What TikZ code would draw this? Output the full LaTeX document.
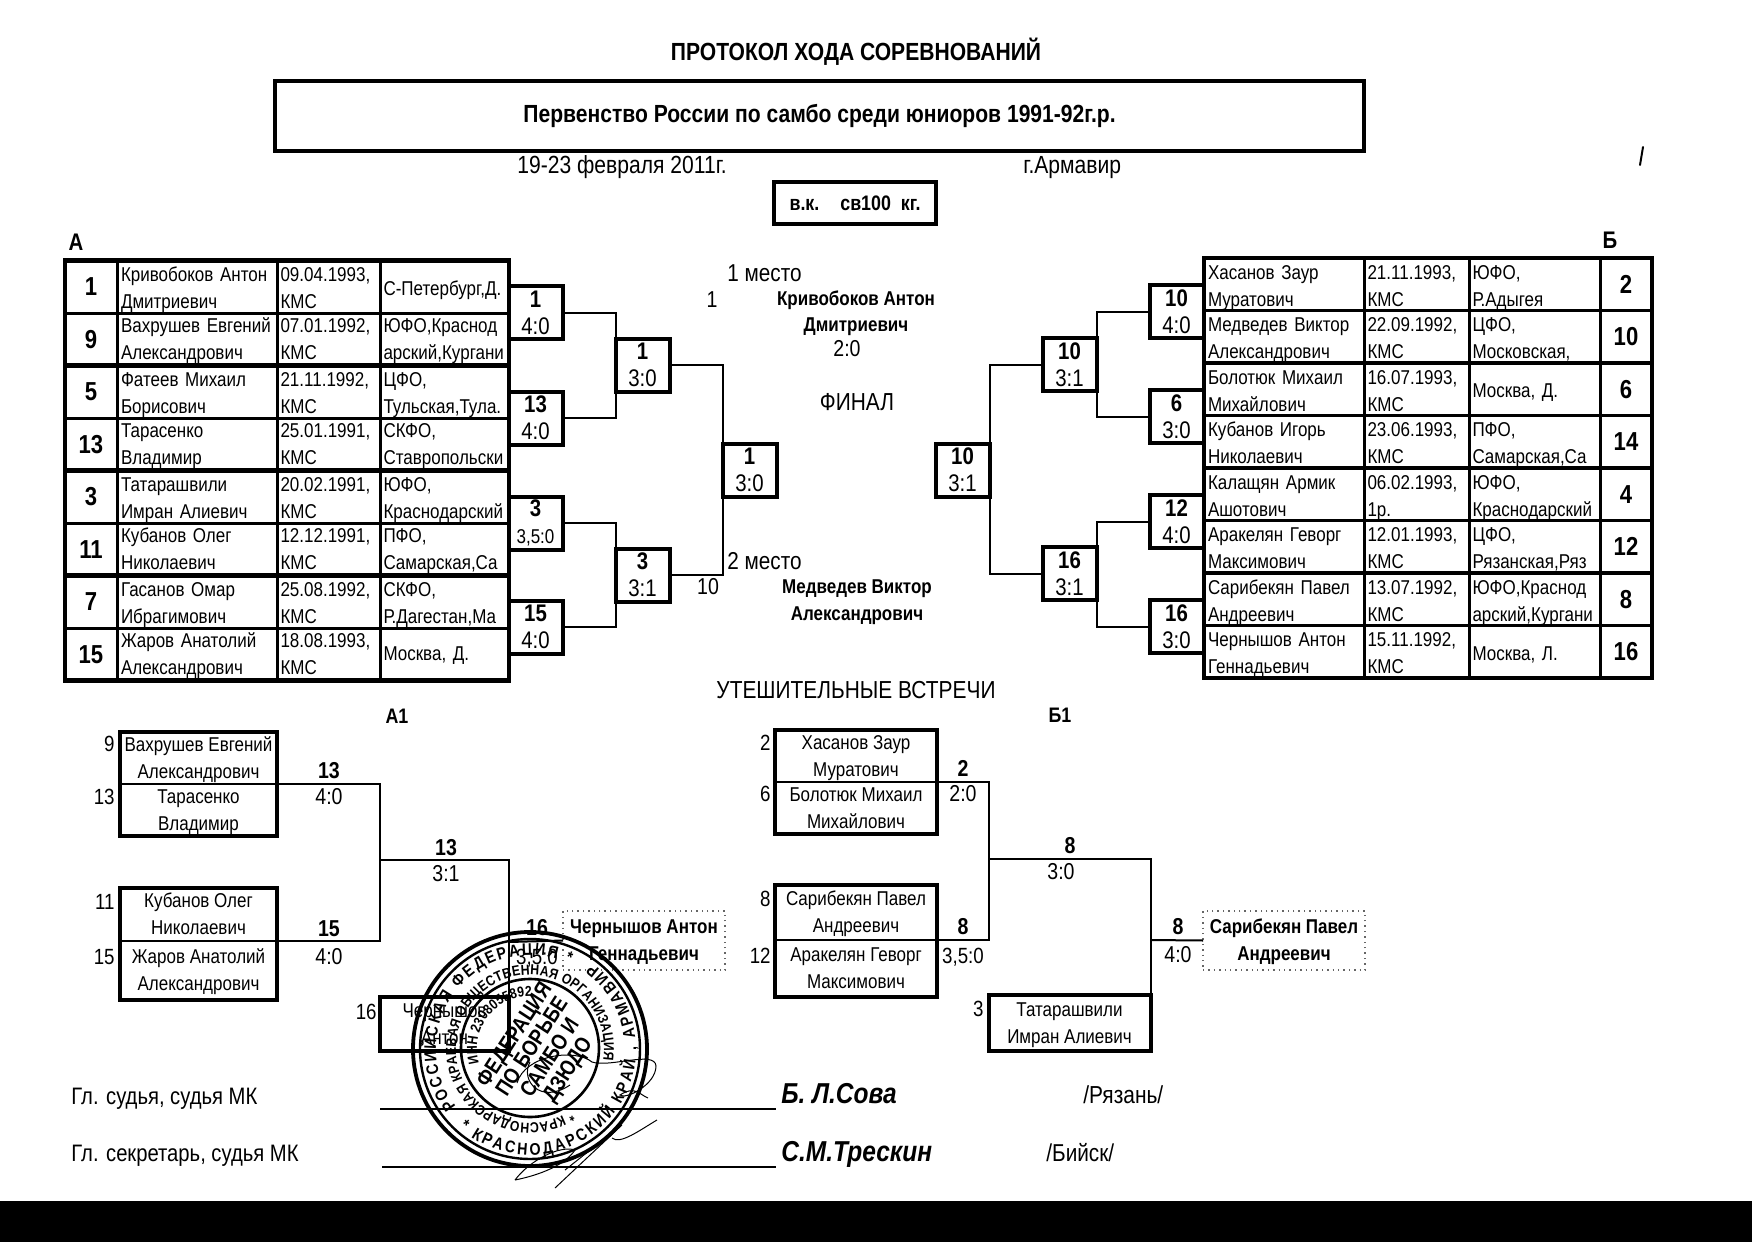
\documentclass[tikz,border=0pt]{standalone}
\usepackage{fontspec}
\setmainfont[FakeStretch=0.85]{Liberation Sans}
\usetikzlibrary{decorations.text}
\newcommand\fz[1]{\fontsize{#1}{13.5}\selectfont}
\newcount\tn
\newcommand\tx[5][mid]{\global\advance\tn by 1 \node[anchor=#1,inner sep=0pt,font=\fz{#4}] (t\the\tn) at ({#2},{#3+4}) {#5};}
\newcommand\stA{\fontsize{8.4}{9}\selectfont\bfseries}
\newcommand\stB{\fontsize{7.2}{8}\selectfont\bfseries}
\def\ctH{10.45pt}
\newcommand\ct[1]{\rule{0pt}{\ctH}#1\rule[-2pt]{0pt}{2pt}}
\newcommand\cb[1]{\rule{0pt}{9.3pt}#1\rule[-2.7pt]{0pt}{2.7pt}}
% rows: prefix, y, seed, name, date, region
\newcommand\lrow[6]{%
 \node[cell,seedf,minimum width=26pt,anchor=north west] (#1s) at (65,#2) {#3};
 \node[cell,txtc,minimum width=80pt,text width=76pt,anchor=north west] (#1n) at (#1s.north east) {\ct{#4}};
 \node[cell,txtc,minimum width=51.5pt,text width=48pt,anchor=north west] (#1d) at (#1n.north east) {\ct{#5}};
 \node[cell,txtc,minimum width=64.5pt,text width=61pt,anchor=north west] (#1r) at (#1d.north east) {\ct{#6}};}
\newcommand\rrow[6]{%
 \node[cell,txtc,minimum width=80pt,text width=76pt,anchor=north west] (#1n) at (1204,#2) {\ct{#4}};
 \node[cell,txtc,minimum width=52.5pt,text width=49pt,anchor=north west] (#1d) at (#1n.north east) {\ct{#5}};
 \node[cell,txtc,minimum width=65.5pt,text width=62pt,anchor=north west] (#1r) at (#1d.north east) {\ct{#6}};
 \node[cell,seedf,minimum width=26pt,anchor=north west] (#1s) at (#1r.north east) {#3};}
\tikzset{
 x=0.5pt,y=-0.5pt,
 cell/.style={draw,line width=1.5pt,outer sep=0pt,inner xsep=1.5pt,inner ysep=0pt,minimum height=26.25pt},
 seedf/.style={font=\fz{13}\bfseries,align=center},
 txtc/.style={font=\fz{10},align=left},
 outl/.style={line width=2.4pt},
 conn/.style={line width=1pt},
 mbox/.style={draw,line width=2pt,outer sep=0pt,inner sep=0pt,minimum width=27pt,minimum height=26.5pt,align=center,font=\fz{12}},
 nbox/.style={draw,line width=1pt,outer sep=0pt,inner sep=0pt,minimum width=78.5pt,minimum height=26pt,align=center,font=\fz{10}},
 dbox/.style={draw=black!60,dotted,line width=0.7pt,outer sep=0pt,inner sep=0pt,minimum width=81pt,minimum height=29.5pt,align=center,font=\fz{10}\bfseries},
 sig/.style={line width=0.5pt},
}
\begin{document}
\begin{tikzpicture}
\useasboundingbox (0,0) rectangle (1752,1242);
\fill[white] (0,0) rectangle (1752,1242);
\fill[black] (0,1201) rectangle (1752,1242);
% header
\tx{856}{51}{12.4}{\bfseries ПРОТОКОЛ ХОДА СОРЕВНОВАНИЙ}
\node[draw,line width=2pt,outer sep=0pt,minimum width=544.5pt,minimum height=35pt,font=\fz{12.4}\bfseries] (ttl) at (819.5,116) {Первенство России по самбо среди юниоров 1991-92г.р.};
\tx[mid west]{517}{164}{12.4}{19-23 февраля 2011г.}
\tx[mid west]{1023}{164}{12.4}{г.Армавир}
\node[draw,line width=2pt,outer sep=0pt,minimum width=81pt,minimum height=21pt,font=\fz{10.5}\bfseries] (cat) at (855,203) {в.к.\quad св100\ \ кг.};
\tx{76}{241}{12}{\bfseries А}
\tx{1610}{239}{12}{\bfseries Б}
% left table
\lrow{la}{260.5}{1}{Кривобоков Антон\\Дмитриевич}{09.04.1993,\\КМС}{С-Петербург,Д.}
\def\ctH{8.45pt}
\lrow{lb}{313}{9}{Вахрушев Евгений\\Александрович}{07.01.1992,\\КМС}{ЮФО,Краснод\\арский,Кургани}
\def\ctH{10.45pt}
\lrow{lc}{365.5}{5}{Фатеев Михаил\\Борисович}{21.11.1992,\\КМС}{ЦФО,\\Тульская,Тула.}
\def\ctH{8.45pt}
\lrow{ld}{418}{13}{Тарасенко\\Владимир}{25.01.1991,\\КМС}{СКФО,\\Ставропольски}
\def\ctH{10.45pt}
\lrow{le}{470.5}{3}{Татарашвили\\Имран Алиевич}{20.02.1991,\\КМС}{ЮФО,\\Краснодарский}
\def\ctH{8.45pt}
\lrow{lf}{523}{11}{Кубанов Олег\\Николаевич}{12.12.1991,\\КМС}{ПФО,\\Самарская,Са}
\def\ctH{10.45pt}
\lrow{lg}{575.5}{7}{Гасанов Омар\\Ибрагимович}{25.08.1992,\\КМС}{СКФО,\\Р.Дагестан,Ма}
\def\ctH{8.45pt}
\lrow{lh}{628}{15}{Жаров Анатолий\\Александрович}{18.08.1993,\\КМС}{Москва, Д.}
\def\ctH{10.45pt}
\draw[outl] (las.north west) rectangle (lhr.south east);
\foreach \r in {lc,le,lg}{\draw[outl] (\r s.north west) -- (\r r.north east);}
% right table
\rrow{ra}{258}{2}{Хасанов Заур\\Муратович}{21.11.1993,\\КМС}{ЮФО,\\Р.Адыгея}
\rrow{rb}{310.5}{10}{Медведев Виктор\\Александрович}{22.09.1992,\\КМС}{ЦФО,\\Московская,}
\rrow{rc}{363}{6}{Болотюк Михаил\\Михайлович}{16.07.1993,\\КМС}{Москва, Д.}
\rrow{rd}{415.5}{14}{Кубанов Игорь\\Николаевич}{23.06.1993,\\КМС}{ПФО,\\Самарская,Са}
\rrow{re}{468}{4}{Калащян Армик\\Ашотович}{06.02.1993,\\1р.}{ЮФО,\\Краснодарский}
\rrow{rf}{520.5}{12}{Аракелян Геворг\\Максимович}{12.01.1993,\\КМС}{ЦФО,\\Рязанская,Ряз}
\rrow{rg}{573}{8}{Сарибекян Павел\\Андреевич}{13.07.1992,\\КМС}{ЮФО,Краснод\\арский,Кургани}
\rrow{rh}{625.5}{16}{Чернышов Антон\\Геннадьевич}{15.11.1992,\\КМС}{Москва, Л.}
\draw[outl] (ran.north west) rectangle (rhs.south east);
\foreach \r in {rc,re,rg}{\draw[outl] (\r n.north west) -- (\r s.north east);}
% left bracket boxes
\node[mbox] (a1) at (535.5,312.5) {\textbf{1}\\4:0};
\node[mbox] (a2) at (535.5,418) {\textbf{13}\\4:0};
\node[mbox] (a3) at (535.5,523) {\textbf{3}\\{\fz{10}3,5:0}};
\node[mbox] (a4) at (535.5,627) {\textbf{15}\\4:0};
\node[mbox] (b1) at (642.5,365) {\textbf{1}\\3:0};
\node[mbox] (b2) at (642.5,575) {\textbf{3}\\3:1};
\node[mbox] (fl) at (749.5,470) {\textbf{1}\\3:0};
\node[mbox] (fr) at (962.5,470) {\textbf{10}\\3:1};
\node[mbox] (c1) at (1069.5,364.5) {\textbf{10}\\3:1};
\node[mbox] (c2) at (1069.5,573.5) {\textbf{16}\\3:1};
\node[mbox] (d1) at (1176.5,311.5) {\textbf{10}\\4:0};
\node[mbox] (d2) at (1176.5,416.5) {\textbf{6}\\3:0};
\node[mbox] (d3) at (1176.5,521.5) {\textbf{12}\\4:0};
\node[mbox] (d4) at (1176.5,626.5) {\textbf{16}\\3:0};
\draw[conn] (a1.east) -| (b1.west);
\draw[conn] (a2.east) -| (b1.west);
\draw[conn] (a3.east) -| (b2.west);
\draw[conn] (a4.east) -| (b2.west);
\draw[conn] (b1.east) -| (fl.west);
\draw[conn] (b2.east) -| (fl.west);
\draw[conn] (d1.west) -| (c1.east);
\draw[conn] (d2.west) -| (c1.east);
\draw[conn] (d3.west) -| (c2.east);
\draw[conn] (d4.west) -| (c2.east);
\draw[conn] (c1.west) -| (fr.east);
\draw[conn] (c2.west) -| (fr.east);
% final texts
\tx[mid west]{727}{272}{12.2}{1 место}
\tx{712}{298}{11.5}{1}
\tx{856}{296}{10}{\bfseries Кривобоков Антон}
\tx{856}{322}{10}{\bfseries Дмитриевич}
\tx{847}{347}{11.5}{2:0}
\tx{857}{401}{12.3}{ФИНАЛ}
\tx[mid west]{727}{560}{12.2}{2 место}
\tx{708}{585}{11.5}{10}
\tx{857}{584}{10}{\bfseries Медведев Виктор}
\tx{857}{611}{10}{\bfseries Александрович}
\tx{856}{689}{12.3}{УТЕШИТЕЛЬНЫЕ ВСТРЕЧИ}
% A1
\tx{397}{714}{10.5}{\bfseries А1}
\node[nbox,anchor=north west] (p1) at (120,732) {\cb{Вахрушев Евгений\\Александрович}};
\node[nbox,anchor=north west] (p2) at (p1.south west) {\cb{Тарасенко\\Владимир}};
\node[nbox,minimum height=26.5pt,anchor=north west] (p3) at (120,888) {\cb{Кубанов Олег\\Николаевич}};
\node[nbox,minimum height=29.5pt,anchor=north west] (p4) at (p3.south west) {\cb{Жаров Анатолий\\Александрович}};
\draw[outl,line width=2pt] (p1.north west) rectangle (p2.south east);
\draw[outl,line width=2pt] (p3.north west) rectangle (p4.south east);
\tx[mid east]{115}{742}{11}{9}
\tx[mid east]{115}{795}{11}{13}
\tx[mid east]{115}{900}{11}{11}
\tx[mid east]{115}{955}{11}{15}
\tx{329}{769}{11.5}{\bfseries 13}
\tx{329}{795}{11.5}{4:0}
\tx{329}{927}{11.5}{\bfseries 15}
\tx{329}{955}{11.5}{4:0}
\tx{446}{846}{11.5}{\bfseries 13}
\tx{446}{872}{11.5}{3:1}
\coordinate (j1) at (380,860);
\coordinate (j2) at (509,942);
\node[mbox,minimum width=64.5pt,minimum height=27pt,font=\fz{10},anchor=north west] (p5) at (380,997) {\cb{Чернышов\\Антон}};
\tx[mid east]{377}{1010}{11}{16}
\node[dbox,anchor=north west] (p6) at (563,911) {\cb{Чернышов Антон\\Геннадьевич}};
\draw[conn] (p1.south east) -| (j1);
\draw[conn] (p3.south east) -| (j1);
\draw[conn] (j1) -| (p5.north east);
\draw[conn] (j2) -- (p6.west);
\tx{537}{926}{11.5}{\bfseries 16}
\tx{537}{955}{11}{3,5:0}
% B1
\tx{1060}{713}{10.5}{\bfseries Б1}
\node[nbox,minimum width=81pt,anchor=north west] (q1) at (775,730) {\cb{Хасанов Заур\\Муратович}};
\node[nbox,minimum width=81pt,anchor=north west] (q2) at (q1.south west) {\cb{Болотюк Михаил\\Михайлович}};
\node[nbox,minimum width=81pt,minimum height=27.5pt,anchor=north west] (q3) at (775,885) {\cb{Сарибекян Павел\\Андреевич}};
\node[nbox,minimum width=81pt,minimum height=28.5pt,anchor=north west] (q4) at (q3.south west) {\cb{Аракелян Геворг\\Максимович}};
\draw[outl,line width=2pt] (q1.north west) rectangle (q2.south east);
\draw[outl,line width=2pt] (q3.north west) rectangle (q4.south east);
\tx[mid east]{771}{741}{11}{2}
\tx[mid east]{771}{792}{11}{6}
\tx[mid east]{771}{897}{11}{8}
\tx[mid east]{771}{954}{11}{12}
\tx{963}{767}{11.5}{\bfseries 2}
\tx{963}{792}{11.5}{2:0}
\tx{963}{925}{11.5}{\bfseries 8}
\tx{963}{954}{11}{3,5:0}
\tx{1070}{844}{11.5}{\bfseries 8}
\tx{1061}{870}{11.5}{3:0}
\tx{1178}{925}{11.5}{\bfseries 8}
\tx{1178}{953}{11.5}{4:0}
\coordinate (k1) at (989,859);
\coordinate (k2) at (1150,940);
\node[mbox,minimum width=81pt,minimum height=28pt,font=\fz{10},anchor=north west] (q5) at (988.5,995) {\cb{Татарашвили\\Имран Алиевич}};
\tx[mid east]{984}{1007}{11}{3}
\node[dbox,anchor=north west] (q6) at (1203,911) {\cb{Сарибекян Павел\\Андреевич}};
\draw[conn] (q1.south east) -| (k1);
\draw[conn] (q3.south east) -| (k1);
\draw[conn] (k1) -| (q5.north east);
\draw[conn] (k2) -- (q6.west);
% signatures
\tx[mid west]{71}{1095}{11.9}{Гл. судья, судья МК}
\tx[mid west]{71}{1152}{11.9}{Гл. секретарь, судья МК}
\coordinate (s1a) at (380,1109); \coordinate (s1b) at (776,1109);
\coordinate (s2a) at (382,1167); \coordinate (s2b) at (776,1167);
\draw[line width=0.9pt] (s1a) -- (s1b);
\draw[line width=0.9pt] (s2a) -- (s2b);
\tx[mid west]{781}{1094}{14.4}{\bfseries\itshape Б. Л.Сова}
\tx[mid west]{781}{1152}{14.4}{\bfseries\itshape С.М.Трескин}
\tx[mid west]{1083}{1094}{12.3}{/Рязань/}
\tx[mid west]{1046}{1152}{12.2}{/Бийск/}
\draw[line width=1pt,line cap=round] (1643,147) -- (1640,165);
% stamp
\begin{scope}[shift={(530,1049)}]
 \draw[line width=1.9pt] (0,0) circle[radius=58.5pt];
 \draw[line width=1.2pt] (0,0) circle[radius=55pt];
 \draw[line width=1.3pt] (0,0.5pt) circle[radius=34.5pt];
 \path[decorate,decoration={text along path,text align={fit to path},text={|\stA|РОССИЙСКАЯ ФЕДЕРАЦИЯ *}}] (218:47pt) arc[start angle=218,end angle=65,radius=47pt];
 \path[decorate,decoration={text along path,text align={fit to path},text={|\stA|* КРАСНОДАРСКИЙ КРАЙ , АРМАВИР}}] (228:53pt) arc[start angle=228,end angle=414,radius=53pt];
 \path[decorate,decoration={text along path,text align={fit to path},text={|\stB|* КРАСНОДАРСКАЯ КРАЕВАЯ ОБЩЕСТВЕННАЯ ОРГАНИЗАЦИЯ}}] (303:37pt) arc[start angle=303,end angle=-9,radius=37pt];
 \path[decorate,decoration={text along path,text align={fit to path},text={|\stB|ИНН 2308055892}}] (196:26.5pt) arc[start angle=196,end angle=88,radius=26.5pt];
 \node[rotate=57,align=center,inner sep=0pt,font=\fontsize{11}{10.6}\selectfont\bfseries] (stc) at (6pt,-2pt) {ФЕДЕРАЦИЯ\\ПО БОРЬБЕ\\САМБО И\\ДЗЮДО};
\end{scope}
\draw[sig] (517,1083) .. controls (525,1055) and (575,1048) .. (592,1062) .. controls (610,1068) and (655,1050) .. (656,1066) .. controls (656,1085) and (625,1100) .. (620,1095) .. controls (635,1085) and (640,1095) .. (648,1098);
\draw[sig] (530,1062) .. controls (520,1080) and (540,1105) .. (570,1085);
\draw[sig] (612,1138) .. controls (620,1145) and (640,1130) .. (657,1120);
\draw[sig] (555,1188) -- (622,1125);
\draw[sig] (565,1170) -- (618,1128);
\draw[sig] (515,1180) .. controls (530,1160) and (560,1145) .. (575,1150) .. controls (565,1165) and (540,1175) .. (515,1180);
\end{tikzpicture}
\end{document}
